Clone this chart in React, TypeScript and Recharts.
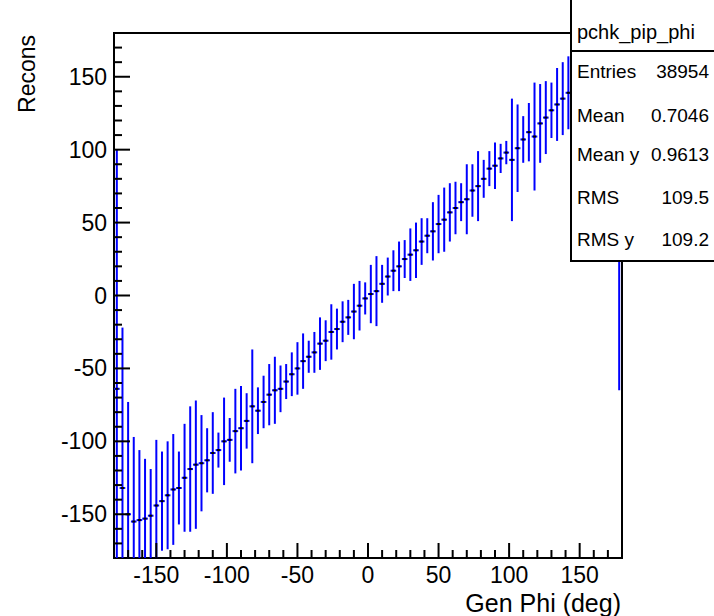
import React from 'react';
import {
  ComposedChart, Scatter, ErrorBar, XAxis, YAxis, ReferenceArea,
} from 'recharts';

// profile bins of 4 deg
const binCenters = [
  -178, -174, -170, -166, -162, -158, -154, -150, -146, -142,
  -138, -134, -130, -126, -122, -118, -114, -110, -106, -102,
  -98, -94, -90, -86, -82, -78, -74, -70, -66, -62,
  -58, -54, -50, -46, -42, -38, -34, -30, -26, -22,
  -18, -14, -10, -6, -2, 2, 6, 10, 14, 18,
  22, 26, 30, 34, 38, 42, 46, 50, 54, 58,
  62, 66, 70, 74, 78, 82, 86, 90, 94, 98,
  102, 106, 110, 114, 118, 122, 126, 130, 134, 138,
  142, 146, 150, 154, 158, 162, 166, 170, 174, 178,
];

const means = [
  -64, -132, -150, -155, -154, -153, -151, -144, -141, -137,
  -133, -132, -125, -119, -116, -115, -113, -108, -106, -100,
  -99, -93, -91, -86, -76, -79, -73, -68, -65, -64,
  -59, -54, -50, -45, -42, -39, -33, -31, -25, -23,
  -18, -15, -11, -7, -2, 1, 3, 8, 13, 17,
  20, 25, 28, 31, 37, 41, 44, 49, 52, 57,
  60, 64, 66, 72, 75, 80, 87, 89, 94, 98,
  93, 101, 107, 112, 109, 118, 122, 127, 131, 135,
  139, 142, 147, 151, 155, 158, 162, 165, 169, 60,
];

const errors = [
  164, 110, 77, 58, 48, 41, 32, 45, 34, 37,
  38, 25, 37, 43, 44, 33, 22, 28, 12, 30,
  15, 29, 29, 19, 39, 16, 18, 21, 23, 16,
  12, 15, 18, 19, 11, 14, 18, 14, 19, 14,
  14, 12, 19, 17, 11, 20, 24, 13, 13, 14,
  17, 13, 18, 19, 16, 12, 20, 20, 22, 20,
  18, 13, 24, 18, 24, 13, 12, 16, 10, 8,
  42, 30, 16, 20, 37, 27, 25, 19, 25, 25,
  25, 24, 24, 25, 24, 23, 24, 25, 24, 125,
];

const halfBin = 2;
const yMin = -180;
const yMax = 180;

const xTicks = [
  -170, -160, -150, -140, -130, -120, -110, -100, -90, -80, -70, -60, -50, -40, -30, -20, -10,
  0, 10, 20, 30, 40, 50, 60, 70, 80, 90, 100, 110, 120, 130, 140, 150, 160, 170,
];
const yTicks = xTicks;

const statsTitle = 'pchk_pip_phi';
const statLabels = ['Entries', 'Mean', 'Mean y', 'RMS', 'RMS y'];
const statValues = ['38954', '0.7046', '0.9613', '109.5', '109.2'];
const statRowTops = [60, 104, 143, 186, 228];

// error bars cut at the frame, like ROOT does
const data = binCenters.map((x, i) => ({
  x,
  y: means[i],
  err: [Math.min(errors[i], means[i] - yMin), Math.min(errors[i], yMax - means[i])],
  xerr: halfBin,
}));

const FONT = '"Liberation Sans", Arial, Helvetica, sans-serif';

function XTick(props: any) {
  const { x, y, payload } = props;
  const v = payload.value;
  const major = v % 50 === 0;
  return (
    <g>
      <line x1={x} x2={x} y1={y} y2={y - (major ? 15 : 8)} stroke="#000" strokeWidth={2} />
      {major && (
        <text x={x} y={y + 25} textAnchor="middle" fontSize={23} fontFamily={FONT} fill="#000">{v}</text>
      )}
    </g>
  );
}

function YTick(props: any) {
  const { x, y, payload } = props;
  const v = payload.value;
  const major = v % 50 === 0;
  return (
    <g>
      <line x1={x} x2={x + (major ? 16 : 8)} y1={y} y2={y} stroke="#000" strokeWidth={2} />
      {major && (
        <text x={x - 7} y={y + 8} textAnchor="end" fontSize={23} fontFamily={FONT} fill="#000">{v}</text>
      )}
    </g>
  );
}

function Marker(props: any) {
  const { cx, cy } = props;
  return <rect x={cx - 1.5} y={cy - 1} width={3} height={2} fill="#000" />;
}

export default function App() {
  return (
    <div style={{ position: 'relative', width: 714, height: 616, background: '#fff', fontFamily: FONT }}>
      <style>{'body{margin:0}'}</style>
      <ComposedChart width={714} height={616} data={data} margin={{ top: 33, right: 92, bottom: 0, left: 0 }}>
        <XAxis
          type="number"
          dataKey="x"
          domain={[-180, 180]}
          allowDataOverflow
          ticks={xTicks}
          interval={0}
          tickSize={0}
          tickMargin={0}
          axisLine={false}
          tick={<XTick />}
          height={58}
        />
        <YAxis
          type="number"
          dataKey="y"
          domain={[yMin, yMax]}
          allowDataOverflow
          ticks={yTicks}
          interval={0}
          tickSize={0}
          tickMargin={0}
          axisLine={false}
          tick={<YTick />}
          width={114}
        />
        <Scatter dataKey="y" shape={<Marker />} isAnimationActive={false}>
          <ErrorBar dataKey="err" direction="y" width={0} stroke="#0000ff" strokeWidth={2} isAnimationActive={false} />
          <ErrorBar dataKey="xerr" direction="x" width={0} stroke="#0000ff" strokeWidth={2} isAnimationActive={false} />
        </Scatter>
        <ReferenceArea x1={-180} x2={180} y1={yMin} y2={yMax} fill="none" stroke="#000" strokeWidth={2} fillOpacity={0} />
      </ComposedChart>
      <svg width={714} height={616} style={{ position: 'absolute', left: 0, top: 0, pointerEvents: 'none' }}>
        <text x={0} y={0} transform="translate(35,35) rotate(-90)" textAnchor="end" fontSize={23} fontFamily={FONT} fill="#000">Recons</text>
        <text x={621} y={612} textAnchor="end" fontSize={25} fontFamily={FONT} fill="#000">Gen Phi (deg)</text>
      </svg>
      <div style={{
        position: 'absolute', left: 570, top: -2, width: 160, height: 264,
        border: '2px solid #000', background: '#fff', boxSizing: 'border-box',
      }}>
        <div style={{ height: 52, borderBottom: '2px solid #000', boxSizing: 'border-box', fontSize: 20, paddingLeft: 5, paddingTop: 21, lineHeight: '22px' }}>
          {statsTitle}
        </div>
        {statLabels.map((label, i) => (
          <div key={label} style={{ position: 'absolute', left: 5, top: statRowTops[i], width: 132, fontSize: 19, lineHeight: '24px', display: 'flex', justifyContent: 'space-between' }}>
            <span>{label}</span>
            <span>{statValues[i]}</span>
          </div>
        ))}
      </div>
    </div>
  );
}
